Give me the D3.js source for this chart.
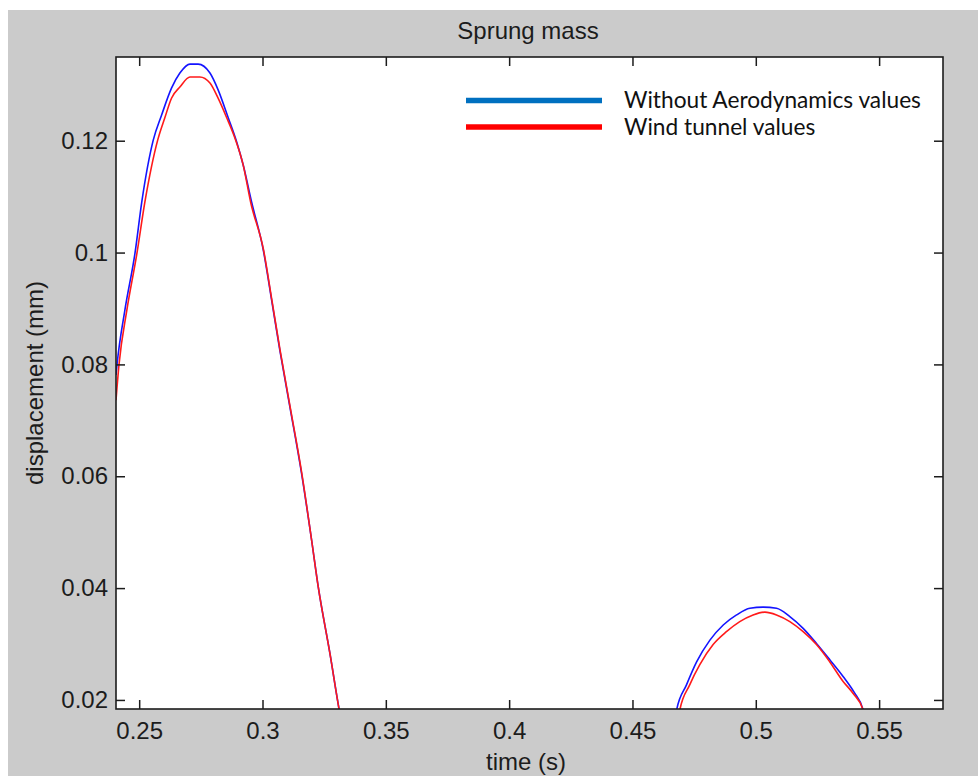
<!DOCTYPE html>
<html>
<head>
<meta charset="utf-8">
<script src="https://cdn.jsdelivr.net/npm/d3@7"></script>
<style>
  html, body { margin: 0; padding: 0; background: #ffffff; }
  svg { display: block; }
</style>
</head>
<body>
<svg id="chart" width="978" height="776"></svg>
<script>
// Sprung mass displacement over time, two simulation cases
const timeWithout = [0.2406, 0.2410, 0.2442, 0.2483, 0.2511, 0.2557, 0.2591, 0.2631, 0.2665, 0.2706, 0.2739, 0.2787, 0.2820, 0.2861, 0.2895, 0.2922, 0.2956, 0.3003, 0.3037, 0.3070, 0.3111, 0.3158, 0.3199, 0.3226, 0.3273, 0.3311, 0.3320,
  0.4672, 0.4679, 0.4719, 0.4760, 0.4814, 0.4868, 0.4922, 0.4976, 0.5030, 0.5084, 0.5138, 0.5192, 0.5246, 0.5300, 0.5354, 0.5401, 0.5435, 0.5445];
const dispWithout = [0.0781, 0.0799, 0.0897, 0.0999, 0.1092, 0.1201, 0.1246, 0.1294, 0.1321, 0.1337, 0.1337, 0.1321, 0.1291, 0.1241, 0.1198, 0.1156, 0.1090, 0.1005, 0.0915, 0.0826, 0.0724, 0.0606, 0.0486, 0.0402, 0.0284, 0.0182, 0.0160,
  0.0160, 0.0182, 0.0227, 0.0268, 0.0307, 0.0334, 0.0352, 0.0364, 0.0366, 0.0364, 0.0349, 0.0328, 0.0301, 0.0272, 0.0242, 0.0212, 0.0182, 0.0160];
// segment id: the two humps are separate pieces of the trace
const segWithout = [0,0,0,0,0,0,0,0,0,0,0,0,0,0,0,0,0,0,0,0,0,0,0,0,0,0,0,
  1,1,1,1,1,1,1,1,1,1,1,1,1,1,1,1,1,1];

const timeWind = [0.2406, 0.2418, 0.2450, 0.2491, 0.2523, 0.2575, 0.2604, 0.2631, 0.2665, 0.2706, 0.2746, 0.2787, 0.2820, 0.2854, 0.2888, 0.2922, 0.2952, 0.3004, 0.3038, 0.3071, 0.3112, 0.3159, 0.3199, 0.3226, 0.3273, 0.3311, 0.3320,
  0.4685, 0.4692, 0.4732, 0.4773, 0.4827, 0.4881, 0.4935, 0.4989, 0.5037, 0.5084, 0.5138, 0.5192, 0.5246, 0.5300, 0.5354, 0.5394, 0.5435, 0.5445];
const dispWind = [0.0736, 0.0799, 0.0897, 0.0999, 0.1090, 0.1201, 0.1241, 0.1276, 0.1296, 0.1314, 0.1314, 0.1303, 0.1276, 0.1242, 0.1205, 0.1156, 0.1090, 0.1005, 0.0915, 0.0826, 0.0724, 0.0606, 0.0486, 0.0402, 0.0284, 0.0182, 0.0160,
  0.0160, 0.0182, 0.0227, 0.0263, 0.0299, 0.0322, 0.0340, 0.0352, 0.0357, 0.0352, 0.0340, 0.0322, 0.0299, 0.0268, 0.0233, 0.0212, 0.0182, 0.0160];
const segWind = segWithout;

const xTicks = [0.25, 0.3, 0.35, 0.4, 0.45, 0.5, 0.55];
const xTickLabels = ["0.25", "0.3", "0.35", "0.4", "0.45", "0.5", "0.55"];
const yTicks = [0.02, 0.04, 0.06, 0.08, 0.1, 0.12];
const yTickLabels = ["0.02", "0.04", "0.06", "0.08", "0.1", "0.12"];

const seriesNames = ["Without Aerodynamics values", "Wind tunnel values"];
const chartTitle = "Sprung mass";
const xTitle = "time (s)";
const yTitle = "displacement (mm)";

// ---- layout ----
const svg = d3.select("#chart");
const W = 978, H = 776;
const plot = { left: 116, top: 57, right: 943, bottom: 709 };
const axisFont = "'Liberation Sans', Arial, sans-serif";
const ink = "#1c1c1c";

// figure background
svg.append("rect").attr("x", 8).attr("y", 10).attr("width", W - 8).attr("height", H - 10).attr("fill", "#cbcbcb");

const x = d3.scaleLinear().domain([0.2406, 0.5759]).range([plot.left, plot.right]);
const y = d3.scaleLinear().domain([0.01838, 0.13497]).range([plot.bottom, plot.top]);

// axes area
svg.append("rect")
  .attr("x", plot.left).attr("y", plot.top)
  .attr("width", plot.right - plot.left).attr("height", plot.bottom - plot.top)
  .attr("fill", "#ffffff");

svg.append("defs").append("clipPath").attr("id", "plotClip")
  .append("rect")
  .attr("x", plot.left).attr("y", plot.top)
  .attr("width", plot.right - plot.left).attr("height", plot.bottom - plot.top);

// data traces
function buildRows(ts, vs, segs) {
  return ts.map((t, i) => ({ t: t, v: vs[i], s: segs[i] }));
}
const line = d3.line().x(d => x(d.t)).y(d => y(d.v)).curve(d3.curveMonotoneX);
const traces = [
  { rows: buildRows(timeWithout, dispWithout, segWithout), color: "#1414ff" },
  { rows: buildRows(timeWind, dispWind, segWind), color: "#ff1a1a" }
];
const traceLayer = svg.append("g").attr("clip-path", "url(#plotClip)");
traces.forEach(tr => {
  const groups = d3.groups(tr.rows, d => d.s);
  groups.forEach(([, pts]) => {
    traceLayer.append("path")
      .attr("d", line(pts))
      .attr("fill", "none")
      .attr("stroke", tr.color)
      .attr("stroke-width", 1.6)
      .attr("stroke-linejoin", "round");
  });
});

// axes with inward ticks on all four sides
const tickLen = 9;
function styleAxis(g) {
  g.select(".domain").remove();
  g.selectAll(".tick line").attr("stroke", ink).attr("stroke-width", 1.5);
  g.selectAll(".tick text").attr("fill", ink).style("font-family", axisFont).style("font-size", "24px");
}

svg.append("g")
  .attr("transform", `translate(0,${plot.bottom})`)
  .call(d3.axisBottom(x).tickValues(xTicks).tickFormat((d, i) => xTickLabels[i])
    .tickSizeInner(-tickLen).tickSizeOuter(0).tickPadding(13))
  .call(styleAxis);

svg.append("g")
  .attr("transform", `translate(0,${plot.top})`)
  .call(d3.axisTop(x).tickValues(xTicks).tickFormat("")
    .tickSizeInner(-tickLen).tickSizeOuter(0))
  .call(styleAxis);

svg.append("g")
  .attr("transform", `translate(${plot.left},0)`)
  .call(d3.axisLeft(y).tickValues(yTicks).tickFormat((d, i) => yTickLabels[i])
    .tickSizeInner(-tickLen).tickSizeOuter(0).tickPadding(8))
  .call(styleAxis);

svg.append("g")
  .attr("transform", `translate(${plot.right},0)`)
  .call(d3.axisRight(y).tickValues(yTicks).tickFormat("")
    .tickSizeInner(-tickLen).tickSizeOuter(0))
  .call(styleAxis);

// frame
svg.append("rect")
  .attr("x", plot.left).attr("y", plot.top)
  .attr("width", plot.right - plot.left).attr("height", plot.bottom - plot.top)
  .attr("fill", "none").attr("stroke", ink).attr("stroke-width", 1.6);

// titles
svg.append("text")
  .attr("x", 528).attr("y", 39)
  .attr("text-anchor", "middle")
  .attr("fill", ink).style("font-family", axisFont).style("font-size", "24px")
  .text(chartTitle);

svg.append("text")
  .attr("x", 526).attr("y", 770)
  .attr("text-anchor", "middle")
  .attr("fill", ink).style("font-family", axisFont).style("font-size", "24px")
  .text(xTitle);

svg.append("text")
  .attr("transform", `translate(43,${(plot.top + plot.bottom) / 2}) rotate(-90)`)
  .attr("text-anchor", "middle")
  .attr("fill", ink).style("font-family", axisFont).style("font-size", "24px")
  .text(yTitle);

// legend
const legendColors = ["#0070c0", "#ff0000"];
const legendY = [100.5, 127];
const legendFont = "Lato, 'Open Sans', sans-serif";
const legend = svg.append("g");
seriesNames.forEach((name, i) => {
  legend.append("line")
    .attr("x1", 466).attr("x2", 602)
    .attr("y1", legendY[i]).attr("y2", legendY[i])
    .attr("stroke", legendColors[i]).attr("stroke-width", 5.5);
  legend.append("text")
    .attr("class", "legend-label")
    .attr("x", 624).attr("y", legendY[i] + 7.5)
    .attr("fill", "#111")
    .style("font-family", legendFont).style("font-size", "21px")
    .text(name);
});
// size the legend text so the longest label spans its box
const first = legend.select(".legend-label").node();
const measured = first.getComputedTextLength();
const fitSize = 21 * 297 / measured;
legend.selectAll(".legend-label").style("font-size", fitSize.toFixed(2) + "px");
</script>
</body>
</html>
